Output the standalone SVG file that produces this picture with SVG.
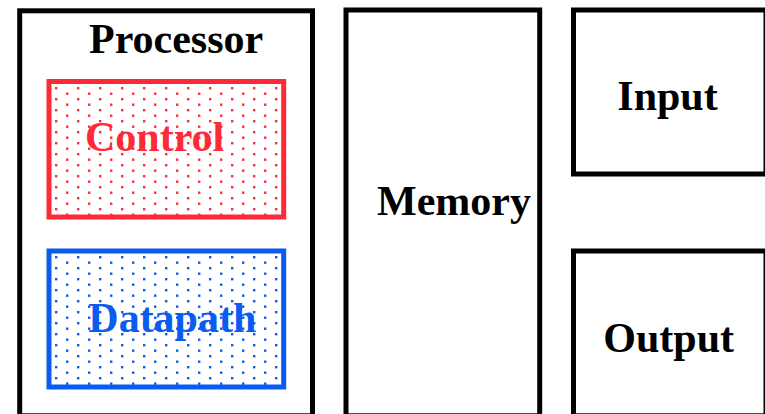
<svg xmlns="http://www.w3.org/2000/svg" width="765" height="414" viewBox="0 0 765 414">
<defs>
<pattern id="dotsRed" x="52" y="85" width="22" height="11" patternUnits="userSpaceOnUse">
<rect x="3" y="2" width="2.4" height="2.4" fill="#ff2a38"/>
<rect x="14" y="7.5" width="2.4" height="2.4" fill="#ff2a38"/>
</pattern>
<pattern id="dotsBlue" x="52" y="254" width="22" height="11" patternUnits="userSpaceOnUse">
<rect x="3" y="2" width="2.4" height="2.4" fill="#0a5cf0"/>
<rect x="14" y="7.5" width="2.4" height="2.4" fill="#0a5cf0"/>
</pattern>
</defs>
<style>
.box{fill:#fff;stroke:#000;stroke-width:5}
.lbl{font-family:"Liberation Serif","Times New Roman",serif;font-weight:bold;font-size:42px}
.red{fill:#ff2a38}
.blue{fill:#0a5cf0}
</style>
<rect width="765" height="414" fill="#fff"/>
<g id="processor">
<rect class="box" x="19.7" y="10.8" width="292.8" height="405"/>
<text class="lbl" x="89" y="53">Processor</text>
</g>
<g id="control">
<rect x="49" y="81.5" width="234.7" height="135.5" fill="url(#dotsRed)" stroke="#ff2a38" stroke-width="5"/>
<text class="lbl red" x="85" y="150.7">Control</text>
</g>
<g id="datapath">
<rect x="49" y="251" width="234.7" height="136" fill="url(#dotsBlue)" stroke="#0a5cf0" stroke-width="5"/>
<text class="lbl blue" x="88.3" y="331.7">Datapath</text>
</g>
<g id="memory">
<rect class="box" x="346" y="10" width="193.7" height="405.8"/>
<text class="lbl" x="377" y="215">Memory</text>
</g>
<g id="input">
<rect class="box" x="573.5" y="10" width="192.5" height="164"/>
<text class="lbl" x="617.3" y="110">Input</text>
</g>
<g id="output">
<rect class="box" x="573.5" y="251" width="192.5" height="164.8"/>
<text class="lbl" x="603.3" y="351.7">Output</text>
</g>
<g id="connectors"></g>
</svg>
